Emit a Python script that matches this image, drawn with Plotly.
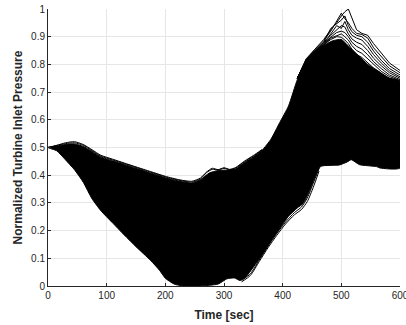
import plotly.graph_objects as go

# Dense core of the ensemble: upper and lower edges of the solid black band
core_top_t = [0, 15, 30, 45, 60, 75, 90, 110, 130, 150, 175, 200, 225, 245, 260,
              275, 290, 305, 320, 335, 350, 365, 380, 395, 410, 425, 440, 455,
              470, 485, 500, 515, 530, 545, 560, 580, 600]
core_top_v = [0.50, 0.505, 0.511, 0.513, 0.504, 0.486, 0.466, 0.452, 0.439, 0.425,
              0.408, 0.391, 0.378, 0.372, 0.384, 0.408, 0.417, 0.418, 0.423, 0.446,
              0.466, 0.49, 0.53, 0.59, 0.65, 0.745, 0.81, 0.845, 0.868, 0.885,
              0.89, 0.86, 0.83, 0.80, 0.78, 0.752, 0.738]

core_bot_t = [0, 15, 30, 45, 60, 75, 90, 110, 130, 150, 175, 190, 200, 215, 230,
              260, 290, 305, 318, 327, 337, 350, 365, 380, 395, 410, 425, 435,
              445, 455, 465, 497, 510, 517, 531, 560, 566, 600]
core_bot_v = [0.50, 0.488, 0.455, 0.42, 0.375, 0.315, 0.272, 0.228, 0.184, 0.142,
              0.092, 0.057, 0.028, 0.007, 0.0, 0.0, 0.007, 0.026, 0.029, 0.02,
              0.032, 0.068, 0.112, 0.162, 0.207, 0.252, 0.282, 0.298, 0.34, 0.392,
              0.432, 0.437, 0.448, 0.456, 0.438, 0.431, 0.426, 0.426]

# Individual runs along the upper edge (early part of the transient)
up_t = [0, 15, 30, 45, 60, 75, 90, 110, 130, 150, 175, 200, 225, 245, 260,
        270, 280, 290, 300, 310, 320, 335, 350, 365]
up_a = [0.50, 0.508, 0.517, 0.521, 0.511, 0.492, 0.472, 0.458, 0.444, 0.430,
        0.413, 0.396, 0.383, 0.378, 0.390, 0.411, 0.425, 0.420, 0.427, 0.421,
        0.428, 0.451, 0.471, 0.493]
up_b = [0.50, 0.507, 0.514, 0.517, 0.508, 0.489, 0.469, 0.455, 0.442, 0.428,
        0.411, 0.394, 0.381, 0.375, 0.387, 0.409, 0.421, 0.419, 0.424, 0.420,
        0.426, 0.449, 0.469, 0.491]

# Individual runs along the rising lower edge
lo_t = [330, 345, 360, 375, 390, 405, 420, 432, 442, 452, 462]
lo_a = [0.015, 0.038, 0.088, 0.138, 0.183, 0.224, 0.257, 0.276, 0.305, 0.355, 0.415]
lo_b = [0.02, 0.044, 0.094, 0.144, 0.19, 0.231, 0.265, 0.285, 0.318, 0.37, 0.425]

# Individual runs reaching the pressure peak
pk_t = [425, 440, 455, 470, 482, 492, 500, 506, 512, 518, 526, 535, 545, 555, 568, 582, 600]
pk_1 = [0.75, 0.82, 0.855, 0.89, 0.925, 0.95, 0.975, 0.99, 1.0, 0.965, 0.925, 0.912, 0.905, 0.875, 0.84, 0.805, 0.778]
pk_2 = [0.75, 0.818, 0.853, 0.885, 0.92, 0.958, 0.985, 0.965, 0.95, 0.93, 0.912, 0.908, 0.895, 0.86, 0.828, 0.795, 0.77]
pk_3 = [0.75, 0.816, 0.85, 0.88, 0.93, 0.945, 0.96, 0.975, 0.94, 0.918, 0.905, 0.90, 0.88, 0.848, 0.815, 0.785, 0.762]
pk_4 = [0.75, 0.814, 0.848, 0.878, 0.91, 0.94, 0.93, 0.955, 0.925, 0.905, 0.895, 0.888, 0.865, 0.835, 0.805, 0.777, 0.755]
pk_5 = [0.75, 0.812, 0.846, 0.875, 0.905, 0.925, 0.94, 0.935, 0.91, 0.892, 0.88, 0.872, 0.85, 0.822, 0.795, 0.77, 0.75]
pk_6 = [0.75, 0.81, 0.845, 0.872, 0.898, 0.915, 0.92, 0.915, 0.90, 0.88, 0.865, 0.855, 0.835, 0.81, 0.785, 0.762, 0.745]
pk_7 = [0.75, 0.81, 0.845, 0.87, 0.895, 0.905, 0.91, 0.90, 0.888, 0.868, 0.85, 0.84, 0.82, 0.798, 0.775, 0.756, 0.742]
pk_8 = [0.75, 0.81, 0.845, 0.87, 0.89, 0.90, 0.898, 0.888, 0.875, 0.855, 0.836, 0.825, 0.805, 0.787, 0.768, 0.75, 0.74]

x_ticks = [0, 100, 200, 300, 400, 500, 600]
y_ticks = [0, 0.1, 0.2, 0.3, 0.4, 0.5, 0.6, 0.7, 0.8, 0.9, 1]
y_tick_text = ["0", "0.1", "0.2", "0.3", "0.4", "0.5", "0.6", "0.7", "0.8", "0.9", "1"]

fig = go.Figure()

band_x = core_top_t + core_bot_t[::-1]
band_y = core_top_v + core_bot_v[::-1]
fig.add_trace(go.Scatter(
    x=band_x, y=band_y, mode="lines", fill="toself", fillcolor="black",
    line=dict(color="black", width=1, shape="spline", smoothing=0.5),
    hoverinfo="skip", showlegend=False))

edge_runs = [(up_t, up_a), (up_t, up_b), (lo_t, lo_a), (lo_t, lo_b)]
for tx, vy in edge_runs:
    fig.add_trace(go.Scatter(
        x=tx, y=vy, mode="lines",
        line=dict(color="black", width=1, shape="spline", smoothing=0.6),
        hoverinfo="skip", showlegend=False))

peak_runs = [pk_1, pk_2, pk_3, pk_4, pk_5, pk_6, pk_7, pk_8]
for vy in peak_runs:
    fig.add_trace(go.Scatter(
        x=pk_t, y=vy, mode="lines",
        line=dict(color="black", width=1),
        hoverinfo="skip", showlegend=False))

axis_font = dict(family="Liberation Sans, Arial, sans-serif", size=10, color="#262626")
title_font = dict(family="Liberation Sans, Arial, sans-serif", size=12, color="#262626")

fig.update_layout(
    width=406, height=325,
    margin=dict(l=48, r=6, t=9, b=39),
    paper_bgcolor="white", plot_bgcolor="white",
    showlegend=False,
    xaxis=dict(
        range=[0, 600], tickvals=x_ticks, ticks="inside", ticklen=3,
        tickcolor="#262626", showline=True, linecolor="#262626", linewidth=1,
        showgrid=True, gridcolor="#e6e6e6", gridwidth=1, zeroline=False,
        tickfont=axis_font, ticklabeloverflow="allow", automargin=False,
        title=dict(text="<b>Time [sec]</b>", font=title_font, standoff=10),
    ),
    yaxis=dict(
        range=[0, 1], tickvals=y_ticks, ticktext=y_tick_text, ticks="inside",
        ticklen=3, tickcolor="#262626", showline=True, linecolor="#262626",
        linewidth=1, showgrid=True, gridcolor="#e6e6e6", gridwidth=1,
        zeroline=False, tickfont=axis_font, automargin=False,
        title=dict(text="<b>Normalized Turbine Inlet Pressure</b>", font=title_font, standoff=5),
    ),
)

fig.write_html("out.html")
